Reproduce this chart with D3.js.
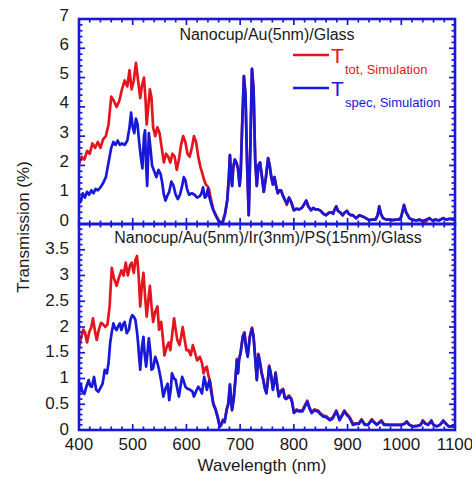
<!DOCTYPE html>
<html><head><meta charset="utf-8">
<script src="https://cdn.jsdelivr.net/npm/d3@7"></script>
<style>body{margin:0;background:#fff}svg{display:block}</style>
</head><body>
<script>
// ---------- data ----------
const xTicks = [400,500,600,700,800,900,1000,1100];
const topYTicks = [0,1,2,3,4,5,6,7];
const botYTicks = [0,0.5,1,1.5,2,2.5,3,3.5];
const topTitle = "Nanocup/Au(5nm)/Glass";
const botTitle = "Nanocup/Au(5nm)/Ir(3nm)/PS(15nm)/Glass";
const xLabel = "Wavelength (nm)";
const yLabel = "Transmission (%)";

// top panel, T_tot (red) [wavelength, %]
const topTot = [[400,2.05],[405,2.3],[410,2.2],[415,2.5],[420,2.4],[425,2.75],[430,2.6],[435,2.8],[440,2.6],[445,2.9],[450,3.0],[455,3.4],[460,4.35],[465,4.2],[470,4.0],[475,4.2],[480,4.6],[485,4.9],[490,4.7],[494,5.25],[498,4.6],[502,4.9],[506,5.5],[510,4.9],[514,4.3],[517,4.7],[521,5.0],[524,4.2],[526,3.4],[529,4.0],[532,4.6],[535,4.3],[538,3.3],[542,3.0],[546,3.3],[550,3.1],[554,2.6],[558,2.1],[562,2.4],[566,2.3],[570,2.1],[574,2.4],[578,2.3],[582,1.85],[586,2.2],[590,2.7],[594,3.0],[598,2.8],[602,2.4],[606,2.3],[610,2.6],[614,3.0],[618,2.8],[622,2.3],[626,1.95],[630,1.7],[633,1.5],[636,1.35],[639,1.3],[642,1.2],[645,0.9],[650,0.5],[655,0.3],[660,0.12],[664,0.05],[668,0.1],[672,0.37],[676,0.82],[679,1.6],[681,2.35],[683,1.7],[685,1.3],[687,1.9],[690,2.2],[693,2.1],[696,1.9],[699,1.3],[701,1.7],[704,3.5],[707,5.05],[710,4.4],[713,2.0],[716,0.3],[719,2.6],[722,5.3],[725,4.6],[728,2.2],[731,1.3],[734,2.0],[737,2.1],[740,1.7],[744,1.1],[748,1.6],[752,2.25],[755,2.0],[758,1.6],[761,1.35],[764,1.6],[767,1.3],[770,1.05],[773,1.15],[776,1.15],[780,0.95],[784,0.8],[787,0.65],[791,0.9],[795,0.75],[800,0.47],[805,0.52],[810,0.5],[815,0.55],[820,0.7],[823,0.8],[827,0.6],[832,0.47],[836,0.55],[840,0.5],[845,0.5],[850,0.45],[855,0.35],[860,0.3],[865,0.38],[870,0.4],[873,0.35],[876,0.5],[879,0.6],[882,0.45],[886,0.4],[891,0.3],[895,0.4],[899,0.45],[902,0.35],[906,0.3],[910,0.3],[916,0.2],[922,0.3],[929,0.25],[934,0.2],[940,0.13],[946,0.15],[952,0.15],[956,0.3],[959,0.6],[962,0.35],[966,0.2],[972,0.15],[978,0.15],[984,0.13],[990,0.15],[996,0.15],[1000,0.25],[1005,0.65],[1009,0.4],[1015,0.2],[1020,0.15],[1028,0.12],[1034,0.15],[1040,0.08],[1046,0.08],[1052,0.2],[1058,0.12],[1064,0.15],[1070,0.12],[1078,0.2],[1084,0.15],[1090,0.18],[1097,0.15],[1100,0.15]];

// top panel, T_spec (blue)
const topSpec = [[400,0.9],[403,0.75],[407,1.05],[411,0.9],[415,1.1],[419,1.0],[423,1.15],[427,1.05],[431,1.2],[435,1.15],[440,1.25],[445,1.4],[450,1.6],[455,2.1],[460,2.6],[464,2.8],[468,2.7],[472,2.85],[476,2.7],[480,2.75],[485,2.7],[490,2.85],[494,3.3],[497,3.8],[500,3.3],[503,3.1],[506,3.6],[509,3.4],[512,2.8],[515,2.3],[518,1.9],[521,3.0],[523,3.2],[525,2.0],[527,1.3],[530,3.1],[533,2.6],[536,2.0],[540,1.8],[544,1.6],[548,1.85],[552,1.7],[555,1.4],[558,1.0],[561,0.8],[564,0.95],[568,1.1],[572,1.45],[576,1.3],[580,1.0],[584,0.85],[588,1.0],[592,1.3],[595,1.6],[598,1.5],[601,1.2],[605,1.0],[610,1.05],[615,1.0],[620,0.9],[625,0.95],[628,1.05],[631,1.25],[634,0.9],[637,0.95],[640,1.2],[643,0.9],[646,0.7],[650,0.47],[655,0.27],[660,0.1],[664,0.03],[668,0.08],[672,0.35],[676,0.8],[679,1.6],[681,2.35],[683,1.7],[685,1.3],[687,1.9],[690,2.2],[693,2.1],[696,1.9],[699,1.3],[701,1.7],[704,3.5],[707,5.05],[710,4.4],[713,2.0],[716,0.3],[719,2.6],[722,5.3],[725,4.6],[728,2.2],[731,1.3],[734,2.0],[737,2.1],[740,1.7],[744,1.1],[748,1.6],[752,2.25],[755,2.0],[758,1.6],[761,1.35],[764,1.6],[767,1.3],[770,1.05],[773,1.15],[776,1.15],[780,0.95],[784,0.8],[787,0.7],[791,0.9],[795,0.75],[800,0.47],[805,0.52],[810,0.5],[815,0.55],[820,0.7],[823,0.8],[827,0.6],[832,0.47],[836,0.55],[840,0.5],[845,0.5],[850,0.45],[855,0.35],[860,0.3],[865,0.38],[870,0.4],[873,0.35],[876,0.5],[879,0.6],[882,0.45],[886,0.4],[891,0.3],[895,0.4],[899,0.45],[902,0.35],[906,0.3],[910,0.3],[916,0.2],[922,0.3],[929,0.25],[934,0.2],[940,0.13],[946,0.15],[952,0.15],[956,0.3],[959,0.6],[962,0.35],[966,0.2],[972,0.15],[978,0.15],[984,0.13],[990,0.15],[996,0.15],[1000,0.25],[1005,0.65],[1009,0.4],[1015,0.2],[1020,0.15],[1028,0.12],[1034,0.15],[1040,0.1],[1046,0.15],[1052,0.2],[1058,0.12],[1064,0.15],[1070,0.12],[1078,0.2],[1084,0.15],[1090,0.18],[1097,0.15],[1100,0.15]];

// bottom panel, T_tot (red)
const botTot = [[400,1.6],[404,1.8],[408,1.95],[411,1.9],[415,1.7],[419,1.9],[423,2.0],[426,2.17],[430,1.9],[433,1.75],[437,1.95],[441,2.08],[445,2.05],[449,2.0],[453,2.05],[457,2.4],[461,3.15],[465,2.95],[470,2.8],[474,2.95],[479,3.1],[483,3.0],[487,3.25],[491,3.0],[495,3.2],[498,3.25],[502,3.05],[505,3.3],[508,3.38],[511,3.0],[514,2.4],[517,2.8],[520,3.05],[523,2.6],[526,2.2],[529,2.5],[532,2.8],[535,2.4],[538,2.1],[542,2.3],[546,2.4],[549,1.95],[553,2.1],[556,1.8],[559,1.45],[563,1.6],[567,1.7],[570,1.55],[574,1.9],[577,2.17],[580,1.95],[583,1.75],[587,1.65],[590,1.8],[593,2.0],[596,1.8],[600,1.55],[604,1.55],[608,1.45],[612,1.65],[616,1.5],[620,1.35],[625,1.42],[629,1.3],[632,1.1],[635,1.2],[638,1.23],[641,1.05],[644,0.95],[647,0.75],[650,0.52],[654,0.42],[658,0.27],[662,0.08],[665,0.12],[668,0.2],[671,0.17],[675,0.41],[678,0.52],[681,0.89],[683,0.62],[685,0.4],[688,0.62],[691,0.97],[694,1.38],[696,1.12],[698,1.38],[701,1.52],[705,1.83],[708,1.9],[711,1.62],[714,1.44],[718,1.82],[722,1.99],[725,1.82],[728,1.42],[731,0.99],[734,1.48],[737,1.32],[740,1.12],[743,0.99],[746,0.82],[749,0.73],[752,1.02],[754,1.25],[757,1.12],[761,0.8],[764,0.97],[766,1.12],[769,0.87],[772,0.67],[776,0.77],[780,0.8],[783,0.64],[786,0.62],[791,0.67],[795,0.62],[797,0.54],[800,0.35],[805,0.4],[810,0.38],[816,0.38],[820,0.47],[825,0.57],[829,0.44],[833,0.35],[838,0.4],[845,0.38],[850,0.32],[855,0.28],[860,0.27],[867,0.21],[872,0.24],[876,0.32],[879,0.38],[882,0.3],[885,0.21],[890,0.3],[894,0.38],[898,0.32],[904,0.25],[910,0.12],[916,0.13],[921,0.13],[926,0.21],[932,0.11],[938,0.1],[945,0.21],[950,0.15],[954,0.11],[959,0.15],[963,0.19],[968,0.11],[976,0.1],[984,0.1],[991,0.1],[1000,0.1],[1006,0.12],[1010,0.17],[1015,0.1],[1022,0.07],[1030,0.08],[1036,0.1],[1040,0.19],[1045,0.13],[1050,0.1],[1056,0.19],[1060,0.1],[1066,0.07],[1072,0.1],[1078,0.19],[1083,0.13],[1088,0.07],[1094,0.07],[1100,0.07]];

// bottom panel, T_spec (blue)
const botSpec = [[400,0.72],[403,0.9],[406,0.75],[410,0.7],[414,0.85],[418,0.97],[421,0.85],[424,0.84],[428,1.03],[432,0.78],[436,0.74],[440,0.82],[444,0.9],[448,1.17],[452,1.1],[455,1.3],[458,1.69],[461,1.9],[464,2.07],[467,1.98],[470,1.94],[473,2.02],[476,2.07],[479,1.94],[482,2.05],[485,2.1],[489,1.88],[493,1.95],[496,2.15],[499,2.23],[502,2.2],[505,2.14],[508,1.9],[510,1.69],[512,1.4],[514,1.17],[517,1.6],[520,1.81],[522,1.5],[525,1.23],[528,1.55],[530,1.78],[533,1.5],[535,1.17],[538,1.2],[542,1.42],[546,1.3],[549,1.17],[553,0.95],[557,0.65],[561,0.8],[565,0.9],[568,0.58],[571,0.8],[573,1.1],[577,1.0],[580,0.97],[583,0.8],[586,0.65],[589,0.85],[592,1.03],[595,0.95],[598,0.84],[602,0.8],[607,0.78],[611,0.75],[614,0.65],[618,0.75],[622,0.84],[626,0.78],[629,0.71],[633,1.03],[636,0.9],[638,0.78],[641,0.9],[643,0.97],[646,0.75],[650,0.5],[654,0.4],[658,0.25],[662,0.06],[665,0.1],[668,0.18],[671,0.15],[675,0.39],[678,0.5],[681,0.87],[683,0.6],[685,0.38],[688,0.6],[691,0.95],[694,1.36],[696,1.1],[698,1.36],[701,1.5],[705,1.81],[708,1.88],[711,1.6],[714,1.42],[718,1.8],[722,1.97],[725,1.8],[728,1.4],[731,0.97],[734,1.46],[737,1.3],[740,1.1],[743,0.97],[746,0.8],[749,0.71],[752,1.0],[754,1.23],[757,1.1],[761,0.78],[764,0.95],[766,1.1],[769,0.85],[772,0.65],[776,0.75],[780,0.78],[783,0.62],[786,0.6],[791,0.65],[795,0.6],[797,0.52],[800,0.33],[805,0.38],[810,0.36],[816,0.36],[820,0.45],[825,0.55],[829,0.42],[833,0.33],[838,0.38],[845,0.36],[850,0.3],[855,0.26],[860,0.25],[867,0.19],[872,0.22],[876,0.3],[879,0.36],[882,0.28],[885,0.19],[890,0.28],[894,0.36],[898,0.3],[904,0.23],[910,0.1],[916,0.12],[921,0.12],[926,0.19],[932,0.1],[938,0.1],[945,0.19],[950,0.14],[954,0.1],[959,0.14],[963,0.17],[968,0.1],[976,0.1],[984,0.1],[991,0.1],[1000,0.1],[1006,0.12],[1010,0.16],[1015,0.1],[1022,0.07],[1030,0.08],[1036,0.1],[1040,0.17],[1045,0.12],[1050,0.1],[1056,0.17],[1060,0.1],[1066,0.07],[1072,0.1],[1078,0.17],[1083,0.12],[1088,0.07],[1094,0.07],[1100,0.07]];

const legendMain = ["T","T"];
const legendSub = ["tot, Simulation","spec, Simulation"];

// ---------- drawing ----------
const W = 472, H = 477;
const RED = "#e3161e", BLUE = "#1818d8";
const FONT = "'Liberation Sans', Arial, sans-serif";
const L = 79, R = 455, T1 = 19, B1 = 224, T2 = 224, B2 = 430;

const svg = d3.select("body").append("svg").attr("width", W).attr("height", H)
  .style("font-family", FONT);

const x = d3.scaleLinear().domain([400, 1100]).range([L, R]);
const yTop = d3.scaleLinear().domain([0, 7]).range([B1, T1]);
const yBot = d3.scaleLinear().domain([0, 4]).range([B2, T2]);

function panel(y, top, bottom, yMajor, yMinorStep, data, labelShift) {
  const g = svg.append("g");
  const clipId = "clip" + top;
  svg.append("clipPath").attr("id", clipId).append("rect")
    .attr("x", L).attr("y", top).attr("width", R - L).attr("height", bottom - top);
  const line = d3.line().x(d => x(d[0])).y(d => y(d[1])).curve(d3.curveLinear);
  const lg = g.append("g").attr("clip-path", `url(#${clipId})`);
  lg.append("path").datum(data[0]).attr("d", line).attr("fill", "none")
    .attr("stroke", RED).attr("stroke-width", 2.7).attr("stroke-linejoin", "round");
  lg.append("path").datum(data[1]).attr("d", line).attr("fill", "none")
    .attr("stroke", BLUE).attr("stroke-width", 2.7).attr("stroke-linejoin", "round");

  // ticks (inward, all sides)
  const xMinor = d3.range(400, 1100.1, 20);
  const yDom = y.domain();
  const yMinor = d3.range(0, yDom[1] + 1e-6, yMinorStep);
  const tg = g.append("g").attr("stroke", BLUE).attr("stroke-width", 1.7);
  xMinor.forEach(v => {
    const major = Math.abs(v % 100) < 1e-6;
    const len = major ? 6 : 3.5;
    tg.append("line").attr("x1", x(v)).attr("x2", x(v)).attr("y1", bottom).attr("y2", bottom - len);
    tg.append("line").attr("x1", x(v)).attr("x2", x(v)).attr("y1", top).attr("y2", top + len);
  });
  yMinor.forEach(v => {
    const major = yMajor.some(m => Math.abs(m - v) < 1e-6);
    const len = major ? 6 : 3.5;
    tg.append("line").attr("y1", y(v)).attr("y2", y(v)).attr("x1", L).attr("x2", L + len);
    tg.append("line").attr("y1", y(v)).attr("y2", y(v)).attr("x1", R).attr("x2", R - len);
  });
  // y tick labels
  g.append("g").selectAll("text").data(yMajor).join("text")
    .attr("x", 69).attr("y", d => y(d) + labelShift)
    .attr("text-anchor", "end").attr("dominant-baseline", "central")
    .attr("font-size", 17).attr("fill", "#1a1a1a").text(d => d);
  // frame
  g.append("rect").attr("x", L).attr("y", top).attr("width", R - L).attr("height", bottom - top)
    .attr("fill", "none").attr("stroke", BLUE).attr("stroke-width", 2.6);
}

panel(yTop, T1, B1, topYTicks, 0.2, [topTot, topSpec], -4);
panel(yBot, T2, B2, botYTicks, 0.1, [botTot, botSpec], -1);

// titles
svg.append("text").attr("x", 267).attr("y", 40).attr("text-anchor", "middle")
  .attr("font-size", 16).attr("fill", "#1a1a1a").text(topTitle);
svg.append("text").attr("x", 268).attr("y", 243).attr("text-anchor", "middle")
  .attr("font-size", 16).attr("fill", "#1a1a1a").text(botTitle);

// x tick labels
svg.append("g").selectAll("text").data(xTicks).join("text")
  .attr("x", d => x(d)).attr("y", 450).attr("text-anchor", "middle")
  .attr("font-size", 17).attr("fill", "#1a1a1a").text(d => d);

// axis titles
svg.append("text").attr("x", 262).attr("y", 471).attr("text-anchor", "middle")
  .attr("font-size", 17).attr("fill", "#1a1a1a").text(xLabel);
svg.append("text").attr("transform", "translate(29,227) rotate(-90)")
  .attr("text-anchor", "middle").attr("font-size", 17).attr("fill", "#1a1a1a").text(yLabel);

// legend
const legY = [55, 88];
const legCol = [RED, BLUE];
legY.forEach((ly, i) => {
  svg.append("line").attr("x1", 293).attr("x2", 329).attr("y1", ly).attr("y2", ly)
    .attr("stroke", legCol[i]).attr("stroke-width", 2.6);
  svg.append("text").attr("x", 331).attr("y", ly + 8).attr("font-size", 21)
    .attr("fill", legCol[i]).text(legendMain[i]);
  svg.append("text").attr("x", 345).attr("y", ly + 18.5).attr("font-size", 13)
    .attr("fill", legCol[i]).text(legendSub[i]);
});
</script>
</body></html>
